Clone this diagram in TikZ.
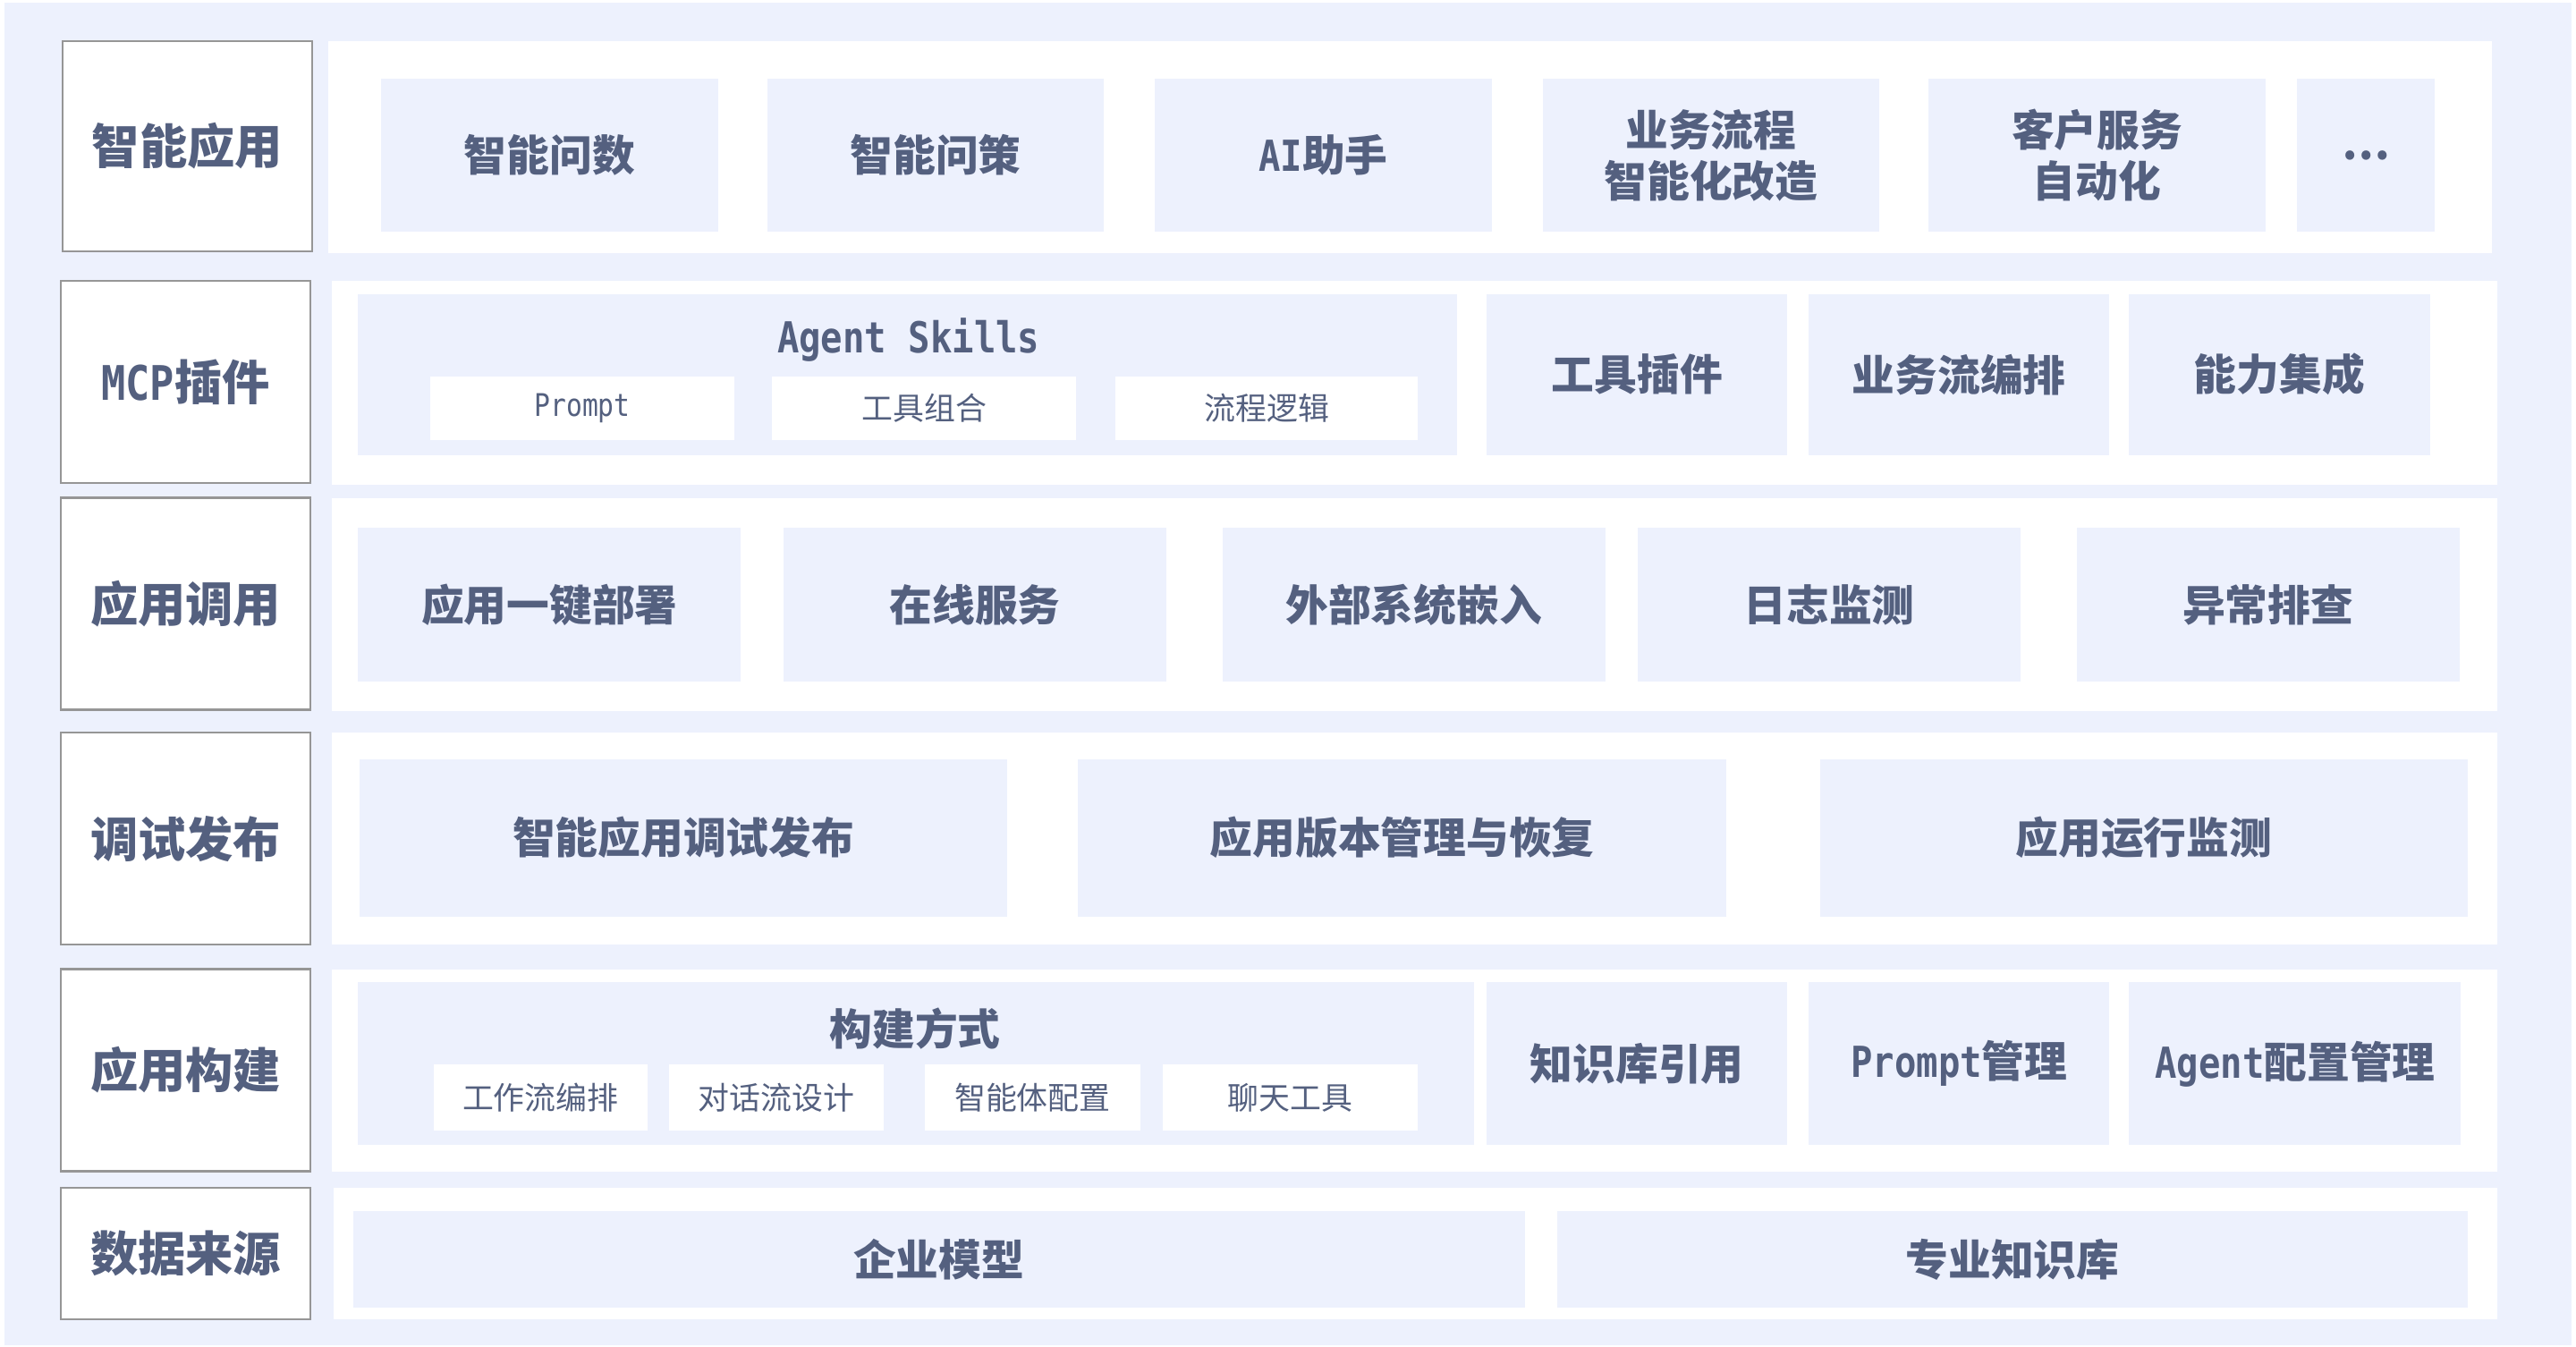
\documentclass[tikz,border=0pt]{standalone}
\usepackage{fontspec}
\newfontfamily\cjk{Noto Sans CJK SC}
\newfontfamily\monof{DejaVu Sans Mono}[FakeStretch=0.85]
\definecolor{lb}{RGB}{237,241,253}
\definecolor{tc}{RGB}{84,96,127}
\definecolor{bgray}{RGB}{150,150,150}
\newcommand\bx[6]{\node[#1, minimum width={(#5-#3)*1pt}, minimum height={(#6-#4)*1pt}] (#2) at ({(#3+#5)/2},{(#4+#6)/2})}
\tikzset{
  lbl/.style={draw=bgray, line width=1.3pt, fill=white, inner sep=0pt, outer sep=0pt,
    font=\cjk\bfseries\fontsize{29}{34}\selectfont, text=tc},
  panel/.style={fill=white, draw=none, inner sep=0pt, outer sep=0pt},
  cell/.style={fill=lb, draw=none, inner sep=0pt, outer sep=0pt, align=center,
    font=\cjk\bfseries\fontsize{26}{31}\selectfont, text=tc},
  subcell/.style={fill=white, draw=none, inner sep=0pt, outer sep=0pt,
    font=\cjk\fontsize{19}{23}\selectfont, text=tc},
  ttl/.style={inner sep=0pt, outer sep=0pt, text=tc, font=\cjk\bfseries\fontsize{26}{31}\selectfont}
}
\begin{document}
\begin{tikzpicture}[x=1pt,y=-1pt]
\useasboundingbox (0,0) rectangle (1568,819.4);
\fill[white] (0,0) rectangle (1568,819.4);
\fill[lb] (2.5,1.5) rectangle (1565.5,819);

% ---------- Row 1: 智能应用 ----------
\bx{panel}{p1}{200}{25}{1517}{154}{};
\bx{lbl}{l1}{38}{25}{190}{153}{智能应用};
\bx{cell}{a1}{232}{48}{437}{141}{智能问数};
\bx{cell}{a2}{467}{48}{672}{141}{智能问策};
\bx{cell}{a3}{703}{48}{908}{141}{{\monof\bfseries AI}助手};
\bx{cell}{a4}{939}{48}{1144}{141}{业务流程\\智能化改造};
\bx{cell}{a5}{1174}{48}{1379}{141}{客户服务\\自动化};
\bx{cell}{a6}{1398}{48}{1482}{141}{…};

% ---------- Row 2: MCP插件 ----------
\bx{panel}{p2}{202}{171}{1520}{295}{};
\bx{lbl}{l2}{37}{171}{189}{294}{{\monof\bfseries MCP}插件};
\bx{cell}{b1}{218}{179}{887}{277}{};
\node[ttl] (b1t) at (553,207) {\monof\bfseries Agent Skills};
\bx{subcell}{b1a}{262}{229}{447}{268}{\monof\fontsize{19}{23}\selectfont Prompt};
\bx{subcell}{b1b}{470}{229}{655}{268}{工具组合};
\bx{subcell}{b1c}{679}{229}{863}{268}{流程逻辑};
\bx{cell}{b2}{905}{179}{1088}{277}{工具插件};
\bx{cell}{b3}{1101}{179}{1284}{277}{业务流编排};
\bx{cell}{b4}{1296}{179}{1479}{277}{能力集成};

% ---------- Row 3: 应用调用 ----------
\bx{panel}{p3}{202}{303}{1520}{433}{};
\bx{lbl}{l3}{37}{303}{189}{432}{应用调用};
\bx{cell}{c1}{218}{321}{451}{415}{应用一键部署};
\bx{cell}{c2}{477}{321}{710}{415}{在线服务};
\bx{cell}{c3}{744}{321}{977}{415}{外部系统嵌入};
\bx{cell}{c4}{997}{321}{1230}{415}{日志监测};
\bx{cell}{c5}{1264}{321}{1497}{415}{异常排查};

% ---------- Row 4: 调试发布 ----------
\bx{panel}{p4}{202}{446}{1520}{575}{};
\bx{lbl}{l4}{37}{446}{189}{575}{调试发布};
\bx{cell}{d1}{219}{462}{613}{558}{智能应用调试发布};
\bx{cell}{d2}{656}{462}{1051}{558}{应用版本管理与恢复};
\bx{cell}{d3}{1108}{462}{1502}{558}{应用运行监测};

% ---------- Row 5: 应用构建 ----------
\bx{panel}{p5}{202}{590}{1520}{713}{};
\bx{lbl}{l5}{37}{590}{189}{713}{应用构建};
\bx{cell}{e1}{218}{598}{897}{697}{};
\node[ttl] (e1t) at (557,626) {构建方式};
\bx{subcell}{e1a}{264}{648}{394}{688}{工作流编排};
\bx{subcell}{e1b}{407}{648}{538}{688}{对话流设计};
\bx{subcell}{e1c}{563}{648}{694}{688}{智能体配置};
\bx{subcell}{e1d}{708}{648}{863}{688}{聊天工具};
\bx{cell}{e2}{905}{598}{1088}{697}{知识库引用};
\bx{cell}{e3}{1101}{598}{1284}{697}{{\monof\bfseries Prompt}管理};
\bx{cell}{e4}{1296}{598}{1498}{697}{{\monof\bfseries Agent}配置管理};

% ---------- Row 6: 数据来源 ----------
\bx{panel}{p6}{203}{723}{1520}{803}{};
\bx{lbl}{l6}{37}{723}{189}{803}{数据来源};
\bx{cell}{f1}{215}{737}{928}{796}{企业模型};
\bx{cell}{f2}{948}{737}{1502}{796}{专业知识库};
\end{tikzpicture}
\end{document}
